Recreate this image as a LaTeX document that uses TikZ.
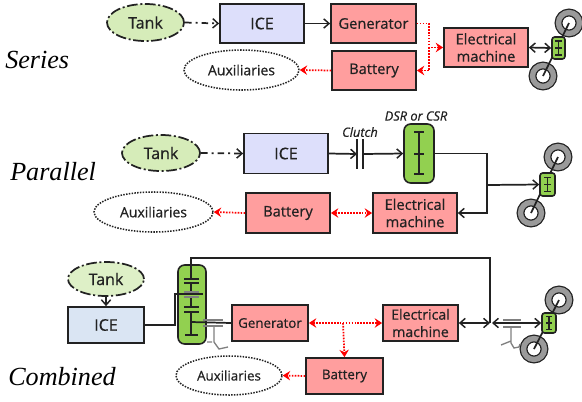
\documentclass[tikz,border=0pt]{standalone}
\usepackage{fontspec}
\setmainfont[RawFeature={embolden=0.6}]{Open Sans}
\newfontfamily\labelfont{Liberation Serif}
\usetikzlibrary{arrows.meta,shapes.geometric}
\definecolor{tankgreen}{HTML}{D6ECB9}
\definecolor{iceblue}{HTML}{DDDFFB}
\definecolor{iceblueb}{HTML}{DAE5F3}
\definecolor{pinkbox}{HTML}{FF9E9E}
\definecolor{geargreen}{HTML}{92D050}
\definecolor{wheelgray}{HTML}{9A9A9A}
\definecolor{inkc}{HTML}{222222}
\tikzset{
  sz/.style 2 args={minimum width=#1*0.75pt,minimum height=#2*0.75pt},
  base/.style={draw=inkc,line width=1.3pt,inner sep=0pt,align=center,text=inkc,font=\fontsize{#1}{13}\selectfont},
  pink/.style={rectangle,base=#1,fill=pinkbox},
  ice/.style={rectangle,base=#1,fill=iceblue},
  tank/.style={ellipse,base=#1,fill=tankgreen,dash pattern=on 8pt off 2pt on 1.5pt off 2pt},
  aux/.style={ellipse,base=#1,line width=1.15pt,dash pattern=on 1.1pt off 1pt},
  stage/.style={font=\labelfont\itshape\fontsize{19.6}{20}\selectfont,text=black,inner sep=0pt,anchor=west},
  tag/.style={font=\itshape\fontsize{9.6}{10}\selectfont,text=inkc,inner sep=0pt},
  wheel/.style={circle,minimum size=15.75pt,inner sep=0pt,fill=white,draw=inkc,line width=.95pt,double=wheelgray,double distance=4pt},
  gearbox/.style={rectangle,rounded corners=3pt,draw=inkc,line width=1.2pt,fill=geargreen,inner sep=0pt},
  link/.style={draw=inkc,line width=1.3pt},
  arrow/.style={link,-{Straight Barb[length=4pt,width=7pt,line width=1.1pt]}},
  twoarrow/.style={link,{Straight Barb[length=4pt,width=7pt,line width=1.1pt]}-{Straight Barb[length=4pt,width=7pt,line width=1.1pt]}},
  dashlink/.style={arrow,dash pattern=on 5pt off 3pt on 1.5pt off 3pt},
  reddot/.style={draw=red,line width=1.3pt,dash pattern=on 1.2pt off 1pt,-{Stealth[length=5.5pt,width=7pt]}},
  reddotb/.style={reddot,{Stealth[length=5.5pt,width=7pt]}-{Stealth[length=5.5pt,width=7pt]}},
  plate/.style={draw=inkc,line width=1.3pt},
  grayplate/.style={draw=gray,line width=1pt},
  minigear/.pic={\draw[draw=inkc,line width=1pt] (0,-7) -- (0,7) (-3.5,-7) -- (3.5,-7) (-3.5,7) -- (3.5,7) (-3.5,0) -- (3.5,0);},
}
\begin{document}
\begin{tikzpicture}[x=0.75pt,y=-0.75pt]
\useasboundingbox (0,0) rectangle (582,401);
% ---------- labels
\node[stage] (ls) at (5,60) {Series};
\node[stage] (lp) at (10,172) {Parallel};
\node[stage] (lc) at (8,377) {Combined};
% ---------- series
\node[tank=12,sz={77}{37}] (tank1) at (145.5,22.5) {Tank};
\node[ice=12,sz={84}{39}] (ice1) at (262,23.5) {ICE};
\node[pink=11,sz={85}{39}] (gen1) at (373.5,23.5) {Generator};
\node[pink=11,sz={84}{39}] (bat1) at (374,70.5) {Battery};
\node[pink=11,sz={84}{39}] (em1) at (486,47.5) {Electrical\\machine};
\node[aux=10.5,sz={115}{40}] (aux1) at (241.5,70) {Auxiliaries};
\node[wheel] (w1a) at (569,23) {};
\node[wheel] (w1b) at (543,76) {};
\draw[link] (w1a.center) -- (w1b.center);
\node[gearbox,rounded corners=2pt,sz={13}{22}] (g1) at (558.5,48) {};
\pic at (g1.center) {minigear};
\draw[dashlink] (tank1.east) -- (ice1.west);
\draw[arrow] (ice1.east) -- (gen1.west);
\coordinate (j1) at (429,47.5);
\draw[reddot] (gen1.east) -| (j1) -- (em1.west);
\draw[reddot] (j1) |- (bat1.east);
\draw[reddot] (bat1.west) -- (aux1.east);
\draw[twoarrow] (em1.east) -- (g1.west);
% ---------- parallel
\node[tank=12,sz={78}{36}] (tank2) at (161,153) {Tank};
\node[ice=12,sz={84}{40}] (ice2) at (286,153.5) {ICE};
\coordinate (c1) at (357,154);
\coordinate (c2) at (363,154);
\draw[plate] (357,139) -- (357,169) (363,139) -- (363,169);
\node[tag] (clutch) at (360,132) {Clutch};
\node[tag] (dsrl) at (416,116) {DSR or CSR};
\node[gearbox,rounded corners=5pt,sz={30}{59}] (dsr) at (419,153.5) {};
\draw[plate] (419,132) -- (419,174) (414,132) -- (424,132) (414,174) -- (424,174) (414,154) -- (424,154);
\node[pink=11,sz={84}{40}] (bat2) at (288,213) {Battery};
\node[pink=11,sz={84}{40}] (em2) at (415,213) {Electrical\\machine};
\node[aux=10.5,sz={119}{40}] (aux2) at (153.5,212) {Auxiliaries};
\node[wheel] (w2a) at (558,157) {};
\node[wheel] (w2b) at (531,213) {};
\draw[link] (w2a.center) -- (w2b.center);
\node[gearbox,rounded corners=2pt,sz={15}{23}] (g2) at (547.5,184.5) {};
\pic at (g2.center) {minigear};
\draw[dashlink] (tank2.east) -- (ice2.west);
\draw[arrow] (ice2.east) -- (c1);
\draw[arrow] (c2) -- (dsr.west);
\coordinate (j2) at (487,185);
\draw[arrow] (dsr.east) -| (j2) |- (em2.east);
\draw[arrow] (j2) -- (g2.west);
\draw[reddotb] (bat2.east) -- (em2.west);
\draw[reddot] (bat2.west) -- (aux2.east);
% ---------- combined
\node[tank=12,sz={76}{34},fill=tankgreen!80!white] (tank3) at (106,279) {Tank};
\node[ice=12,sz={76}{36},fill=iceblueb] (ice3) at (106,325) {ICE};
\node[gearbox,rounded corners=5pt,sz={28}{79}] (g3) at (192,304.5) {};
\node[pink=10,sz={76}{36}] (gen3) at (270,323) {Generator};
\node[pink=10.6,sz={75}{36}] (em3) at (420.5,323) {Electrical\\machine};
\node[pink=10,sz={77}{36}] (bat3) at (344.5,376) {Battery};
\node[aux=10,sz={106}{39}] (aux3) at (229,375.5) {Auxiliaries};
\draw[arrow] (tank3.south) -- (ice3.north);
% gear set
\coordinate (top3) at (191,258);
\coordinate (j3) at (490,323);
\draw[link] (191,279) -- (top3) -- (490,258) -- (j3);
\draw[link] (191,283) -- (191,291);
\draw[link] (191,297) -- (191,307);
\draw[link] (191,312) -- (191,335);
\draw[plate] (184,279) -- (199,279) (184,283) -- (199,283) (184,307) -- (199,307) (184,312) -- (199,312) (185,335) -- (198,335);
\draw[grayplate] (184,292) -- (199,292) (184,297) -- (199,297);
\draw[link] (ice3.east) -- (175,325) -- (175,294) -- (203,294);
\draw[link] (191,322) -- (gen3.west);
\draw[grayplate] (203,320) -- (223,320) (203,326) -- (223,326);
\draw[grayplate] (207,342) -- (212,342) (214,326) -- (214,342) -- (219,349) -- (228,347);
\node[wheel] (w3a) at (559,300) {};
\node[wheel] (w3b) at (534,349) {};
\draw[link] (w3a.center) -- (w3b.center);
\node[gearbox,rounded corners=2pt,sz={14}{20}] (g3s) at (549,323) {};
\pic[scale=.9] at (g3s.center) {minigear};
\draw[grayplate] (503,320) -- (521,320) (503,327) -- (521,327);
\draw[grayplate] (501,345) -- (511,341) (511,327) -- (511,343) -- (514,348) -- (519,347) -- (520,344);
\draw[twoarrow] (em3.east) -- (j3);
\coordinate (j4) at (492,323);
\draw[twoarrow] (j4) -- (g3s.west);
\coordinate (j5) at (343,323);
\draw[reddotb] (gen3.east) -- (em3.west);
\draw[reddot] (j5) -- (bat3.north);
\draw[reddot] (bat3.west) -- (aux3.east);
\end{tikzpicture}
\end{document}
